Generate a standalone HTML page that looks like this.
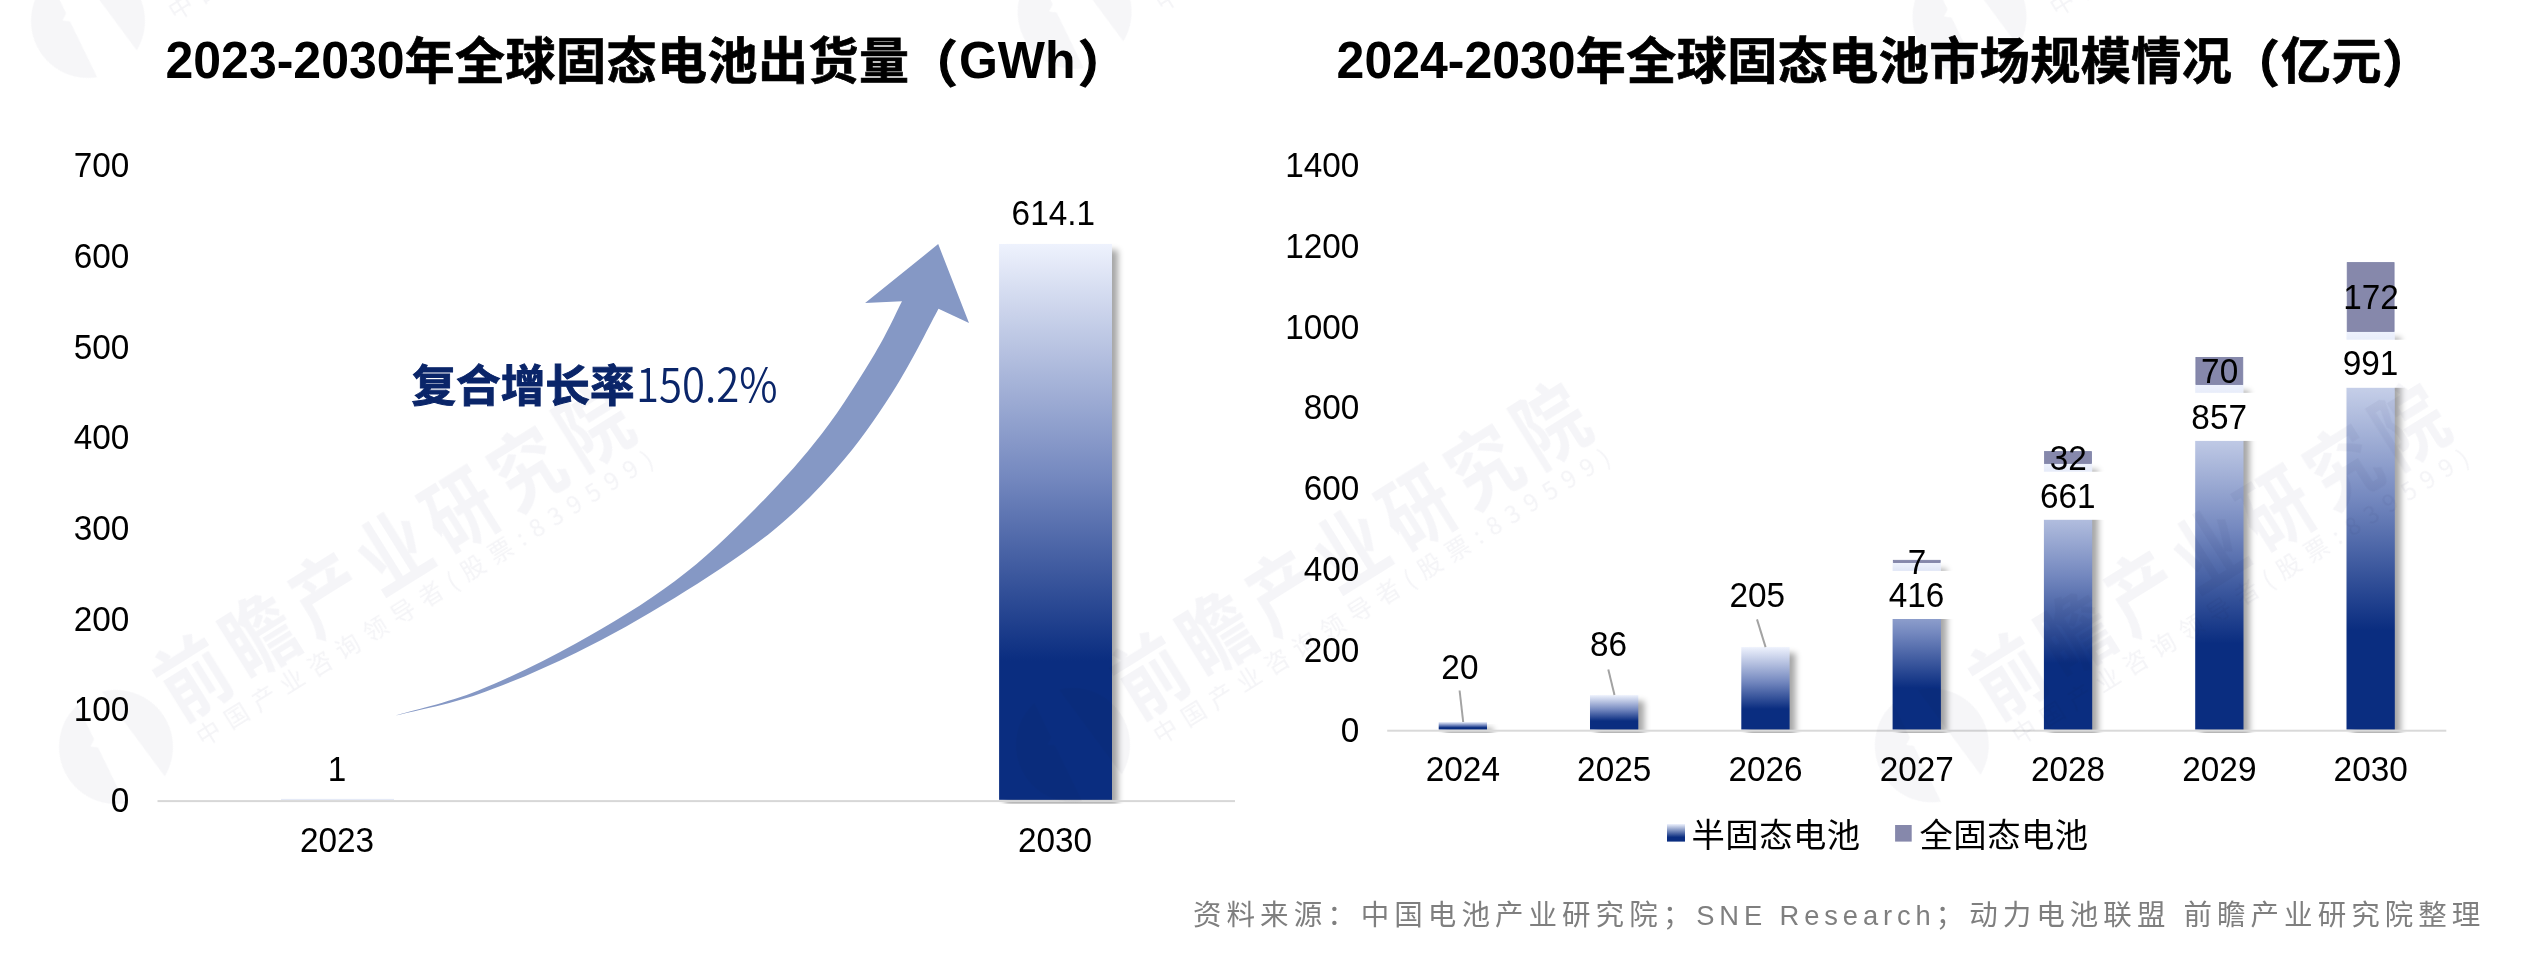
<!DOCTYPE html>
<html lang="zh-CN">
<head>
<meta charset="utf-8">
<title>全球固态电池出货量与市场规模</title>
<style>
html,body{margin:0;padding:0;background:#fff;}
body{width:2540px;height:976px;overflow:hidden;position:relative;}
svg{position:absolute;left:0;top:0;display:block;will-change:transform;}
text{font-family:"Liberation Sans","Noto Sans CJK SC",sans-serif;fill:#000;}
.t{font-size:50px;font-weight:700;}
.ck{letter-spacing:0.5px;stroke:#000;stroke-width:0.7px;}
.pk{stroke:#000;stroke-width:1.3px;}
.n{font-size:33.33px;}
.lg{font-size:33.33px;letter-spacing:0.5px;}
.src{font-size:28.5px;fill:#7f7f7f;letter-spacing:5.05px;}
.srcl{font-size:27.3px;letter-spacing:4.9px;}
.wm1{font-size:84px;fill:#f5f5f8;font-weight:700;font-family:"Noto Sans CJK SC",sans-serif;}
.wm2{font-size:24px;fill:#f4f4f7;font-family:"Noto Sans CJK SC",sans-serif;}
</style>
</head>
<body>
<svg id="chart" width="2540" height="976" viewBox="0 0 2540 976">
<defs>
<linearGradient id="gb" x1="0" y1="0" x2="0" y2="1">
<stop offset="0" stop-color="#eef2fd"/>
<stop offset="0.42" stop-color="#7488bf"/>
<stop offset="0.75" stop-color="#0a2d80"/>
<stop offset="1" stop-color="#0a2d80"/>
</linearGradient>
<linearGradient id="gl" x1="0" y1="0" x2="0" y2="1">
<stop offset="0" stop-color="#eef2fd"/>
<stop offset="0.75" stop-color="#0a2d80"/>
<stop offset="1" stop-color="#0a2d80"/>
</linearGradient>
<filter id="sh" x="-30%" y="-10%" width="180%" height="130%" color-interpolation-filters="sRGB">
<feGaussianBlur in="SourceAlpha" stdDeviation="3"/>
<feOffset dx="6" dy="6"/>
<feComponentTransfer><feFuncA type="linear" slope="0.35"/></feComponentTransfer>
<feMerge><feMergeNode/><feMergeNode in="SourceGraphic"/></feMerge>
</filter>
<filter id="sh2" x="-60%" y="-40%" width="240%" height="240%" color-interpolation-filters="sRGB">
<feGaussianBlur in="SourceAlpha" stdDeviation="3"/>
<feOffset dx="6" dy="6"/>
<feComponentTransfer><feFuncA type="linear" slope="0.35"/></feComponentTransfer>
<feMerge><feMergeNode/><feMergeNode in="SourceGraphic"/></feMerge>
</filter>
<clipPath id="cpL"><rect x="0" y="0" width="1270" height="803.8"/></clipPath>
<clipPath id="cpR"><rect x="1270" y="0" width="1270" height="732.9"/></clipPath>
<g id="wmu">
<circle cx="0" cy="0" r="57" fill="#f6f6f8"/>
<path d="M-10 -60 L-14.5 -18 L-21.5 -14 L-15.5 -9 L-22.8 60 L26.5 60 L17 -60 Z" fill="#fff"/>
<text class="wm1" transform="translate(68 13) scale(0.81 1)" textLength="668" lengthAdjust="spacing">前瞻产业研究院</text>
<text class="wm2" x="74" y="46" textLength="533" lengthAdjust="spacing">中国产业咨询领导者(股票:839599)</text>
</g>
</defs>
<!-- LEFT CHART -->
<g id="left">
<text class="t" transform="translate(165.5 78) scale(1 1.042)">2023-2030</text>
<text class="t ck" x="404.55" y="79.2">年全球固态电池出货量</text>
<text class="t pk" x="907.6" y="81.6">（</text>
<text class="t" transform="translate(958.9 78) scale(1 1.042)">GWh</text>
<text class="t pk" x="1078.3" y="81.6">）</text>
<g text-anchor="end">
<text class="n" transform="translate(129.4 177) scale(1 1.042)">700</text>
<text class="n" transform="translate(129.4 268) scale(1 1.042)">600</text>
<text class="n" transform="translate(129.4 359) scale(1 1.042)">500</text>
<text class="n" transform="translate(129.4 449) scale(1 1.042)">400</text>
<text class="n" transform="translate(129.4 540) scale(1 1.042)">300</text>
<text class="n" transform="translate(129.4 631) scale(1 1.042)">200</text>
<text class="n" transform="translate(129.4 721) scale(1 1.042)">100</text>
<text class="n" transform="translate(129.4 812) scale(1 1.042)">0</text>
</g>
<g clip-path="url(#cpL)">
<rect x="281" y="798.9" width="113" height="0.9" fill="#dfe5f6" filter="url(#sh)"/>
<rect x="999.1" y="244" width="112.9" height="555.8" fill="url(#gb)" filter="url(#sh)"/>
</g>
<rect x="157.5" y="800.1" width="1077.5" height="2" fill="#d7d7d7"/>
<g text-anchor="middle">
<text class="n" transform="translate(1053.3 225.3) scale(1 1.042)">614.1</text>
<text class="n" transform="translate(337 781) scale(1 1.042)">1</text>
<text class="n" transform="translate(337 852) scale(1 1.042)">2023</text>
<text class="n" transform="translate(1055 852) scale(1 1.042)">2030</text>
</g>
<path id="arrow" fill="#8598c5" d="M395.2 715.6 C409.1 711.4 448.1 702.6 478.3 690.5 C508.6 678.4 543.9 661.3 576.7 643.1 C609.5 624.9 645.3 603.5 675.0 581.1 C704.7 558.8 730.5 533.6 755.0 509.0 C779.5 484.4 802.0 459.5 822.0 433.5 C842.0 407.5 861.9 374.9 875.2 352.9 C888.5 330.9 897.5 309.9 902.0 301.3 L865.1 303.1 L938.2 244.1 L969 323.1 L938.5 308.7 C931.6 321.4 912.7 359.9 897.0 385.0 C881.3 410.1 865.0 434.8 844.5 459.0 C824.0 483.2 802.0 506.9 773.8 530.0 C745.5 553.1 707.9 577.4 675.0 597.8 C642.1 618.2 609.5 636.3 576.7 652.4 C543.9 668.5 508.6 683.7 478.3 694.2 C448.1 704.7 409.1 712.0 395.2 715.6 Z"/>
<text x="411.5" y="401.5" style="font-size:44.6px;font-weight:700;fill:#0a2569;stroke:#0a2569;stroke-width:0.9px;font-family:'Noto Sans CJK SC',sans-serif">复合增长率</text>
<text transform="translate(636 402) scale(0.895 1)" style="font-size:46.8px;font-weight:350;fill:#0a2569;font-family:'Noto Sans CJK SC',sans-serif">150.2%</text>
</g>
<!-- RIGHT CHART -->
<g id="right">
<text class="t" transform="translate(1336.60 78) scale(1 1.042)">2024-2030</text>
<text class="t ck" x="1575.65" y="79.2">年全球固态电池市场规模情况</text>
<text class="t pk" x="2229.5" y="81.6">（</text>
<text class="t ck" x="2281" y="79.2">亿元</text>
<text class="t pk" x="2382.6" y="81.6">）</text>
<g text-anchor="end">
<text class="n" transform="translate(1359.4 177.3) scale(1 1.042)">1400</text>
<text class="n" transform="translate(1359.4 258) scale(1 1.042)">1200</text>
<text class="n" transform="translate(1359.4 338.7) scale(1 1.042)">1000</text>
<text class="n" transform="translate(1359.4 419.4) scale(1 1.042)">800</text>
<text class="n" transform="translate(1359.4 500.1) scale(1 1.042)">600</text>
<text class="n" transform="translate(1359.4 580.8) scale(1 1.042)">400</text>
<text class="n" transform="translate(1359.4 661.5) scale(1 1.042)">200</text>
<text class="n" transform="translate(1359.4 742.2) scale(1 1.042)">0</text>
</g>
<g clip-path="url(#cpR)">
<rect x="1438.7" y="722" width="48.3" height="7.6" fill="url(#gb)" filter="url(#sh2)"/>
<rect x="1590" y="695.1" width="48.3" height="34.5" fill="url(#gb)" filter="url(#sh2)"/>
<rect x="1741.3" y="647.1" width="48.3" height="82.5" fill="url(#gb)" filter="url(#sh2)"/>
<rect x="1892.6" y="563" width="48.3" height="166.6" fill="url(#gb)" filter="url(#sh2)"/>
<rect x="2043.9" y="463.8" width="48.3" height="265.8" fill="url(#gb)" filter="url(#sh2)"/>
<rect x="2195.2" y="384.9" width="48.3" height="344.7" fill="url(#gb)" filter="url(#sh2)"/>
<rect x="2346.5" y="331.8" width="48.3" height="397.8" fill="url(#gb)" filter="url(#sh2)"/>
</g>
<rect x="1387.2" y="729.7" width="1059.1" height="2" fill="#d9d9d9"/>
<rect x="1893.3" y="560.3" width="46.9" height="2.3" fill="#8688ab" stroke="#7c80a6" stroke-width="0.8"/>
<rect x="2044.6" y="451.6" width="46.9" height="11.8" fill="#8688ab" stroke="#7c80a6" stroke-width="0.8"/>
<rect x="2195.9" y="357.4" width="46.9" height="27.1" fill="#8688ab" stroke="#7c80a6" stroke-width="0.8"/>
<rect x="2347.2" y="262.6" width="46.9" height="68.8" fill="#8688ab" stroke="#7c80a6" stroke-width="0.8"/>
<rect x="1879.55" y="570.9" width="74.4" height="48.1" fill="#fff"/>
<rect x="2030.85" y="471.7" width="74.4" height="48.1" fill="#fff"/>
<rect x="2182.15" y="392.8" width="74.4" height="48.1" fill="#fff"/>
<rect x="2333.45" y="339.7" width="74.4" height="48.1" fill="#fff"/>
<g stroke="#a3a3a3" stroke-width="2" fill="none">
<path d="M1459.6 690.5 L1463.2 722"/>
<path d="M1608.3 669.5 L1614.5 695"/>
<path d="M1757 619.4 L1765.6 647.1"/>
</g>
<g text-anchor="middle">
<text class="n" transform="translate(1459.9 678.6) scale(1 1.042)">20</text>
<text class="n" transform="translate(1608.5 656.4) scale(1 1.042)">86</text>
<text class="n" transform="translate(1757.2 606.6) scale(1 1.042)">205</text>
<text class="n" transform="translate(1916.55 606.9) scale(1 1.042)">416</text>
<text class="n" transform="translate(2067.85 507.7) scale(1 1.042)">661</text>
<text class="n" transform="translate(2219.15 429) scale(1 1.042)">857</text>
<text class="n" transform="translate(2370.45 375) scale(1 1.042)">991</text>
<text class="n" transform="translate(1917.05 573.9) scale(1 1.042)">7</text>
<text class="n" transform="translate(2068.35 470) scale(1 1.042)">32</text>
<text class="n" transform="translate(2219.65 383.3) scale(1 1.042)">70</text>
<text class="n" transform="translate(2370.95 309.2) scale(1 1.042)">172</text>
<text class="n" transform="translate(1462.85 781.1) scale(1 1.042)">2024</text>
<text class="n" transform="translate(1614.15 781.1) scale(1 1.042)">2025</text>
<text class="n" transform="translate(1765.45 781.1) scale(1 1.042)">2026</text>
<text class="n" transform="translate(1916.75 781.1) scale(1 1.042)">2027</text>
<text class="n" transform="translate(2068.05 781.1) scale(1 1.042)">2028</text>
<text class="n" transform="translate(2219.35 781.1) scale(1 1.042)">2029</text>
<text class="n" transform="translate(2370.65 781.1) scale(1 1.042)">2030</text>
</g>
<rect x="1667" y="824" width="18" height="17.6" fill="url(#gl)"/>
<text class="lg" x="1691.5" y="846.5">半固态电池</text>
<rect x="1895.1" y="825" width="16.6" height="16.6" fill="#8688ab"/>
<text class="lg" x="1919.5" y="846.5">全固态电池</text>
</g>
<!-- SOURCE -->
<text class="src" x="1193" y="925">资料来源：中国电池产业研究院；<tspan class="srcl">SNE Research</tspan>；动力电池联盟 前瞻产业研究院整理</text>
<!-- WATERMARK OVERLAY -->
<g id="wm" style="mix-blend-mode:multiply">
<use href="#wmu" transform="translate(88 21) rotate(-32)"/>
<use href="#wmu" transform="translate(1074.6 12) rotate(-32)"/>
<use href="#wmu" transform="translate(1969.5 17) rotate(-32)"/>
<use href="#wmu" transform="translate(116 747) rotate(-32)"/>
<use href="#wmu" transform="translate(1073 745) rotate(-32)"/>
<use href="#wmu" transform="translate(1931.8 745.4) rotate(-32)"/>
</g>
</svg>
</body>
</html>
